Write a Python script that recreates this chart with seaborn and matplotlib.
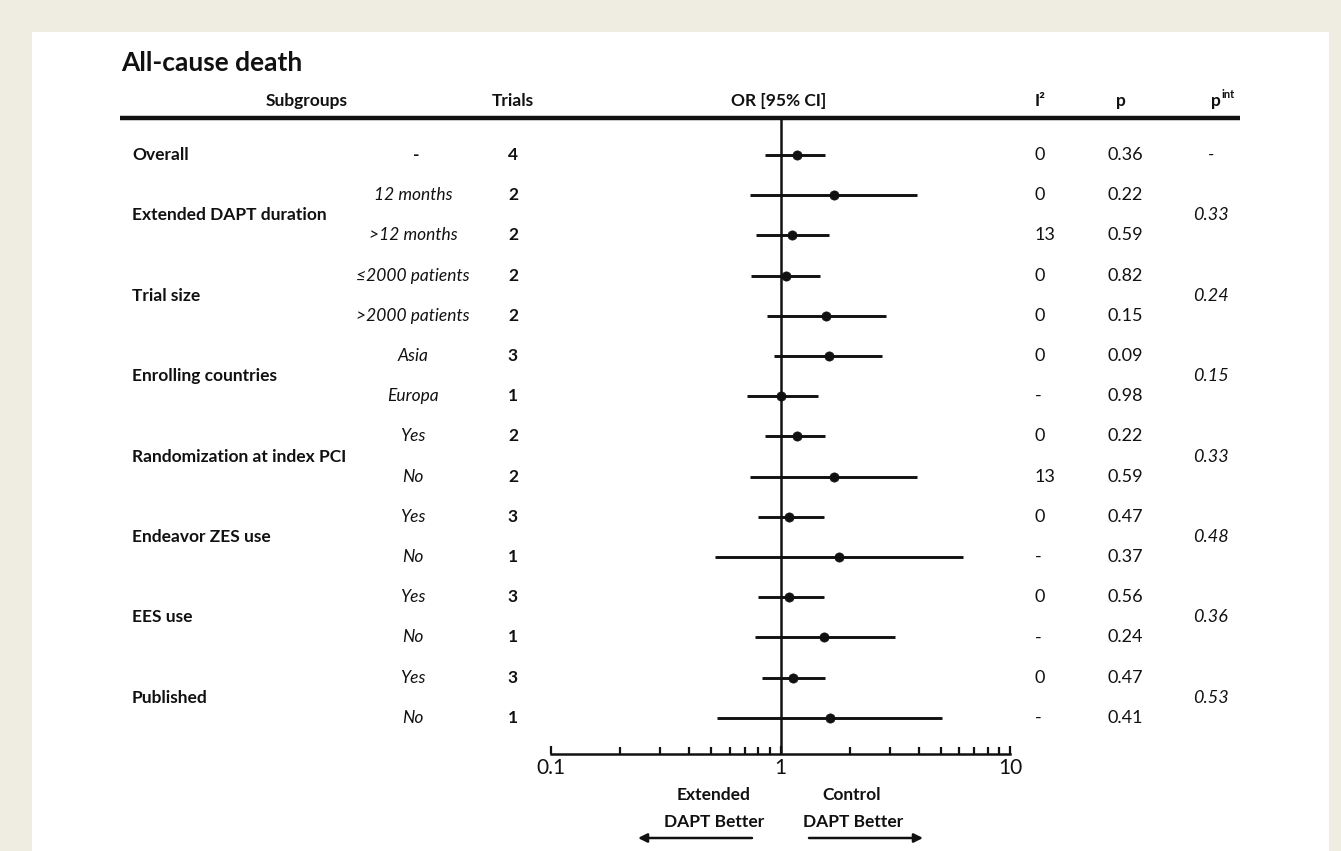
import numpy as np
import pandas as pd
import matplotlib
matplotlib.use("Agg")
import matplotlib.pyplot as plt
import matplotlib.transforms as mtransforms
from matplotlib.patches import Rectangle
import seaborn as sns

# ---------------- data ----------------
title = "All-cause death"
groups = ["Overall", "Extended DAPT duration", "Trial size", "Enrolling countries",
          "Randomization at index PCI", "Endeavor ZES use", "EES use", "Published"]
group_rows = [[0], [1, 2], [3, 4], [5, 6], [7, 8], [9, 10], [11, 12], [13, 14]]
p_int = ["-", "0.33", "0.24", "0.15", "0.33", "0.48", "0.36", "0.53"]

subgroups = ["-", "12 months", ">12 months", "\u22642000 patients", ">2000 patients",
             "Asia", "Europa", "Yes", "No", "Yes", "No", "Yes", "No", "Yes", "No"]
trials = ["4", "2", "2", "2", "2", "3", "1", "2", "2", "3", "1", "3", "1", "3", "1"]
or_vals = [1.175, 1.716, 1.117, 1.059, 1.577, 1.62, 1.003, 1.175, 1.716, 1.09, 1.80, 1.09, 1.55, 1.136, 1.64]
ci_lo = [0.854, 0.74, 0.78, 0.747, 0.869, 0.938, 0.713, 0.854, 0.74, 0.794, 0.517, 0.794, 0.773, 0.829, 0.529]
ci_hi = [1.57, 3.93, 1.626, 1.485, 2.874, 2.77, 1.45, 1.57, 3.93, 1.54, 6.23, 1.54, 3.14, 1.56, 5.05]
i2 = ["0", "0", "13", "0", "0", "0", "-", "0", "13", "0", "-", "0", "-", "0", "-"]
pvals = ["0.36", "0.22", "0.59", "0.82", "0.15", "0.09", "0.98", "0.22", "0.59",
         "0.47", "0.37", "0.56", "0.24", "0.47", "0.41"]
xticks = [0.1, 1, 10]
xtick_labels = ["0.1", "1", "10"]

df = pd.DataFrame({"row": np.arange(len(or_vals)), "OR": or_vals, "lo": ci_lo, "hi": ci_hi})

# ---------------- style ----------------
sns.set_style("white")
FAM = ["Lato", "DejaVu Sans"]
plt.rcParams["font.family"] = FAM
INK = "#111111"
FS = 12.5

W, H = 1341, 851
fig = plt.figure(figsize=(W / 100, H / 100), dpi=100, facecolor="#EFECE1")

# overlay axes in pixel coords for table text
ax0 = fig.add_axes([0, 0, 1, 1])
ax0.set_xlim(0, W)
ax0.set_ylim(H, 0)
ax0.axis("off")
ax0.add_patch(Rectangle((32, 32), 1329 - 32, H - 32, facecolor="white", edgecolor="none", zorder=0))

# forest axes
x0, x1 = 551, 1010
ytop, ybot = 118, 754
row0, rowstep = 155, 40.2
ax = fig.add_axes([x0 / W, (H - ybot) / H, (x1 - x0) / W, (ybot - ytop) / H])
ax.patch.set_alpha(0)
ax.set_xscale("log")
ax.set_xlim(0.1, 10)
ax.set_ylim((ybot - row0) / rowstep, (ytop - row0) / rowstep)

ax.hlines(df["row"], df["lo"], df["hi"], color=INK, lw=2.1, zorder=2)
sns.scatterplot(data=df, x="OR", y="row", ax=ax, color=INK, s=44, edgecolor=INK,
                linewidth=0.5, zorder=3, legend=False)
ax.axvline(1, color=INK, lw=1.8, zorder=1)

for s in ["top", "left", "right"]:
    ax.spines[s].set_visible(False)
ax.spines["bottom"].set_linewidth(1.8)
ax.spines["bottom"].set_color(INK)
ax.set_yticks([])
ax.set_xticks(xticks, labels=xtick_labels)
ax.xaxis.set_minor_locator(matplotlib.ticker.LogLocator(base=10, subs=np.arange(2, 10)))
ax.xaxis.set_minor_formatter(matplotlib.ticker.NullFormatter())
ax.tick_params(axis="x", which="both", bottom=True, top=False, direction="in",
               width=1.6, color=INK, labelsize=15, pad=3, labelcolor=INK)
ax.tick_params(axis="x", which="major", length=6)
ax.tick_params(axis="x", which="minor", length=5)
ax.set_xlabel("")
ax.set_ylabel("")

# blended transform: x in pixels (ax0), y in rows (ax)
tr = mtransforms.blended_transform_factory(ax0.transData, ax.transData)

# title and header
ax0.text(121, 63, title, fontsize=19, fontweight="bold", color=INK, va="center", ha="left")
hy = 101
hfs = 12.5
ax0.text(307, hy, "Subgroups", fontsize=hfs, fontweight="bold", ha="center", va="center", color=INK)
ax0.text(513, hy, "Trials", fontsize=hfs, fontweight="bold", ha="center", va="center", color=INK)
ax0.text(779, hy, "OR [95% CI]", fontsize=hfs, fontweight="bold", ha="center", va="center", color=INK)
ax0.text(1040, hy, "I\u00b2", fontsize=hfs, fontweight="bold", ha="center", va="center", color=INK)
ax0.text(1121, hy, "p", fontsize=hfs, fontweight="bold", ha="center", va="center", color=INK)
ax0.text(1216, hy, "p", fontsize=hfs, fontweight="bold", ha="center", va="center", color=INK)
ax0.text(1221, hy - 6, "int", fontsize=8, fontweight="bold", ha="left", va="center", color=INK)
ax0.plot([120, 1240], [118, 118], color=INK, lw=3.2, solid_capstyle="butt")

# group labels and p interaction
for g, rows, pi in zip(groups, group_rows, p_int):
    yc = float(np.mean(rows))
    ax0.text(132, yc, g, transform=tr, fontsize=FS, fontweight="bold", ha="left", va="center", color=INK)
    ax0.text(1211, yc, pi, transform=tr, fontsize=13, style="italic", ha="center", va="center", color=INK)

# per-row columns
for r in range(len(subgroups)):
    sub = subgroups[r]
    if sub == "-":
        ax0.text(416, r, sub, transform=tr, fontsize=FS, fontweight="bold", ha="center", va="center", color=INK)
    else:
        ax0.text(413, r, sub, transform=tr, fontsize=FS, style="italic", ha="center", va="center", color=INK)
    ax0.text(513, r, trials[r], transform=tr, fontsize=FS, fontweight="bold", ha="center", va="center", color=INK)
    ax0.text(1035, r, i2[r], transform=tr, fontsize=13, ha="left", va="center", color=INK)
    ax0.text(1108, r, pvals[r], transform=tr, fontsize=13, ha="left", va="center", color=INK)

# direction labels and arrows
ax0.text(714, 795, "Extended", fontsize=FS, fontweight="bold", ha="center", va="center", color=INK)
ax0.text(714, 822, "DAPT Better", fontsize=FS, fontweight="bold", ha="center", va="center", color=INK)
ax0.text(852, 795, "Control", fontsize=FS, fontweight="bold", ha="center", va="center", color=INK)
ax0.text(853, 822, "DAPT Better", fontsize=FS, fontweight="bold", ha="center", va="center", color=INK)
ax0.annotate("", xy=(638, 838), xytext=(752, 838),
             arrowprops=dict(arrowstyle="-|>", color=INK, lw=1.8, mutation_scale=13, shrinkA=0, shrinkB=0))
ax0.annotate("", xy=(923, 838), xytext=(809, 838),
             arrowprops=dict(arrowstyle="-|>", color=INK, lw=1.8, mutation_scale=13, shrinkA=0, shrinkB=0))

fig.savefig("out.png", dpi=100, facecolor=fig.get_facecolor())
